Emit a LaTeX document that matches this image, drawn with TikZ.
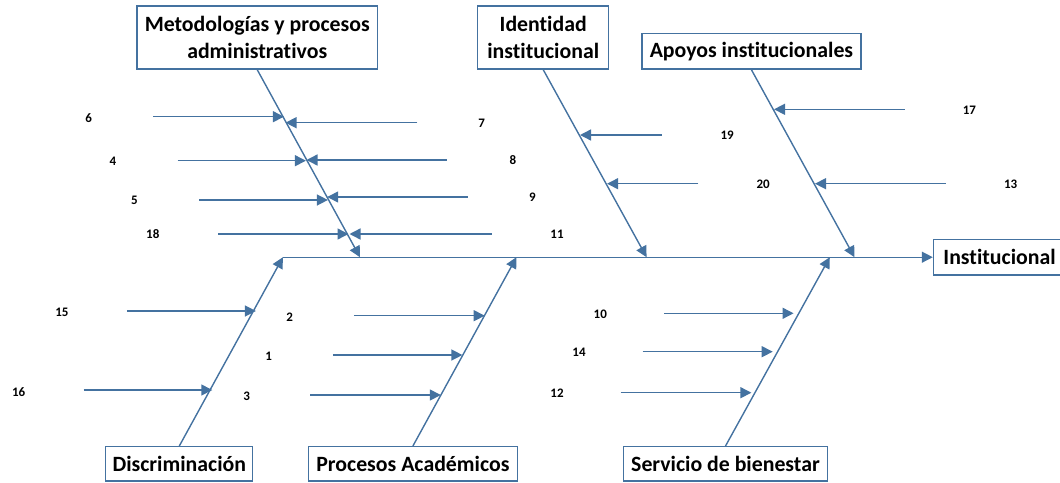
\documentclass[tikz,border=0pt]{standalone}
\usepackage{fontspec}
\setmainfont[Ligatures={NoCommon}]{Carlito}
\usetikzlibrary{arrows.meta}
\definecolor{bone}{RGB}{68,114,160}
\begin{document}
\begin{tikzpicture}[x=1pt,y=-1pt,
  catbox/.style={draw=bone,line width=1.3pt,fill=white,inner sep=0pt,align=center,
    font=\fontsize{21.8}{26.5}\selectfont\bfseries},
  num/.style={inner sep=0pt,font=\fontsize{13}{15}\selectfont\bfseries},
  tip/.style={draw=bone,line width=1.4pt,-{Triangle[length=11pt,width=11pt]}},
  ]
\useasboundingbox (0,0) rectangle (1060,482);
\clip (0,0) rectangle (1060,482);
% category boxes
\node[catbox,minimum width=240.7pt,minimum height=63pt] (meto) at (257.2,37.5) {Metodologías y procesos\\administrativos};
\node[catbox,minimum width=131.2pt,minimum height=63pt] (iden) at (543.2,37.5) {Identidad\\institucional};
\node[catbox,minimum width=219pt,minimum height=35.7pt] (apoy) at (751.4,51.2) {Apoyos institucionales};
\node[catbox,anchor=west,minimum height=35.7pt,text width=140pt,align=left,inner xsep=10pt] (inst) at (932.8,257.2) {Institucional};
\node[catbox,minimum width=147pt,minimum height=34.3pt] (disc) at (179.3,463.8) {Discriminación};
\node[catbox,minimum width=208.6pt,minimum height=34.3pt] (proc) at (412.9,463.8) {Procesos Académicos};
\node[catbox,minimum width=203.8pt,minimum height=34.3pt] (serv) at (725.5,463.8) {Servicio de bienestar};
% spine
\coordinate (s0) at (282.9,257.2);
\coordinate (sMeto) at (360,257.2);
\coordinate (sIden) at (646.6,257.2);
\coordinate (sApoy) at (854.5,257.2);
\coordinate (sProc) at (516.5,257.2);
\coordinate (sServ) at (829.8,257.2);
\draw[tip] (s0) -- (inst.west);
% bones
\draw[tip] (meto.south) -- (sMeto);
\draw[tip] (iden.south) -- (sIden);
\draw[tip] (apoy.south) -- (sApoy);
\draw[tip] (disc.north) -- (s0);
\draw[tip] (proc.north) -- (sProc);
\draw[tip] (serv.north) -- (sServ);
% labels
\node[num] (n6) at (88.6,118) {6};
\node[num] (n4) at (112.9,161) {4};
\node[num] (n5) at (134.5,200) {5};
\node[num] (n18) at (152.8,234) {18};
\node[num] (n7) at (481.7,123) {7};
\node[num] (n8) at (512.8,160) {8};
\node[num] (n9) at (532.5,197) {9};
\node[num] (n11) at (557,234) {11};
\node[num] (n19) at (727.1,135) {19};
\node[num] (n20) at (763.2,184) {20};
\node[num] (n17) at (969.4,110) {17};
\node[num] (n13) at (1010.7,184) {13};
\node[num] (n15) at (61.9,312) {15};
\node[num] (n16) at (18.6,391.7) {16};
\node[num] (n2) at (289.7,317) {2};
\node[num] (n1) at (268.7,356.7) {1};
\node[num] (n3) at (246.7,396.7) {3};
\node[num] (n10) at (600.3,314) {10};
\node[num] (n14) at (579,352) {14};
\node[num] (n12) at (557,393) {12};
% arrow ends
\coordinate (a6) at (153.1,116.7);  \coordinate (b6) at (283.9,116.7);
\coordinate (a4) at (177.5,160.7);  \coordinate (b4) at (305.9,160.7);
\coordinate (a5) at (199.1,200);    \coordinate (b5) at (327.9,200);
\coordinate (a18) at (218,234);     \coordinate (b18) at (348.5,234);
\coordinate (a7) at (417.4,122.7);  \coordinate (b7) at (285.5,122.7);
\coordinate (a8) at (446.9,160);    \coordinate (b8) at (306.5,160);
\coordinate (a9) at (467.8,197);    \coordinate (b9) at (327.2,197);
\coordinate (a11) at (491.8,234);   \coordinate (b11) at (349.5,234);
\coordinate (a19) at (661.8,135);   \coordinate (b19) at (580,135);
\coordinate (a20) at (698.3,183.7); \coordinate (b20) at (607.1,183.7);
\coordinate (a17) at (904.5,109.3); \coordinate (b17) at (774,109.3);
\coordinate (a13) at (945.8,183.7); \coordinate (b13) at (815,183.7);
\coordinate (a15) at (126.8,311);   \coordinate (b15) at (255.9,311);
\coordinate (a16) at (83.5,390);    \coordinate (b16) at (212.3,390);
\coordinate (a2) at (353.9,315.7);  \coordinate (b2) at (484.7,315.7);
\coordinate (a1) at (332.9,355);    \coordinate (b1) at (462.4,355);
\coordinate (a3) at (310.3,395);    \coordinate (b3) at (440.8,395);
\coordinate (a10) at (664.2,313.3); \coordinate (b10) at (793.6,313.3);
\coordinate (a14) at (642.6,351.7); \coordinate (b14) at (772.7,351.7);
\coordinate (a12) at (620.6,392.7); \coordinate (b12) at (751.4,392.7);
\foreach \k in {6,4,5,18,7,8,9,11,19,20,17,13,15,16,2,1,3,10,14,12}
  \draw[tip] (a\k) -- (b\k);
\end{tikzpicture}
\end{document}
